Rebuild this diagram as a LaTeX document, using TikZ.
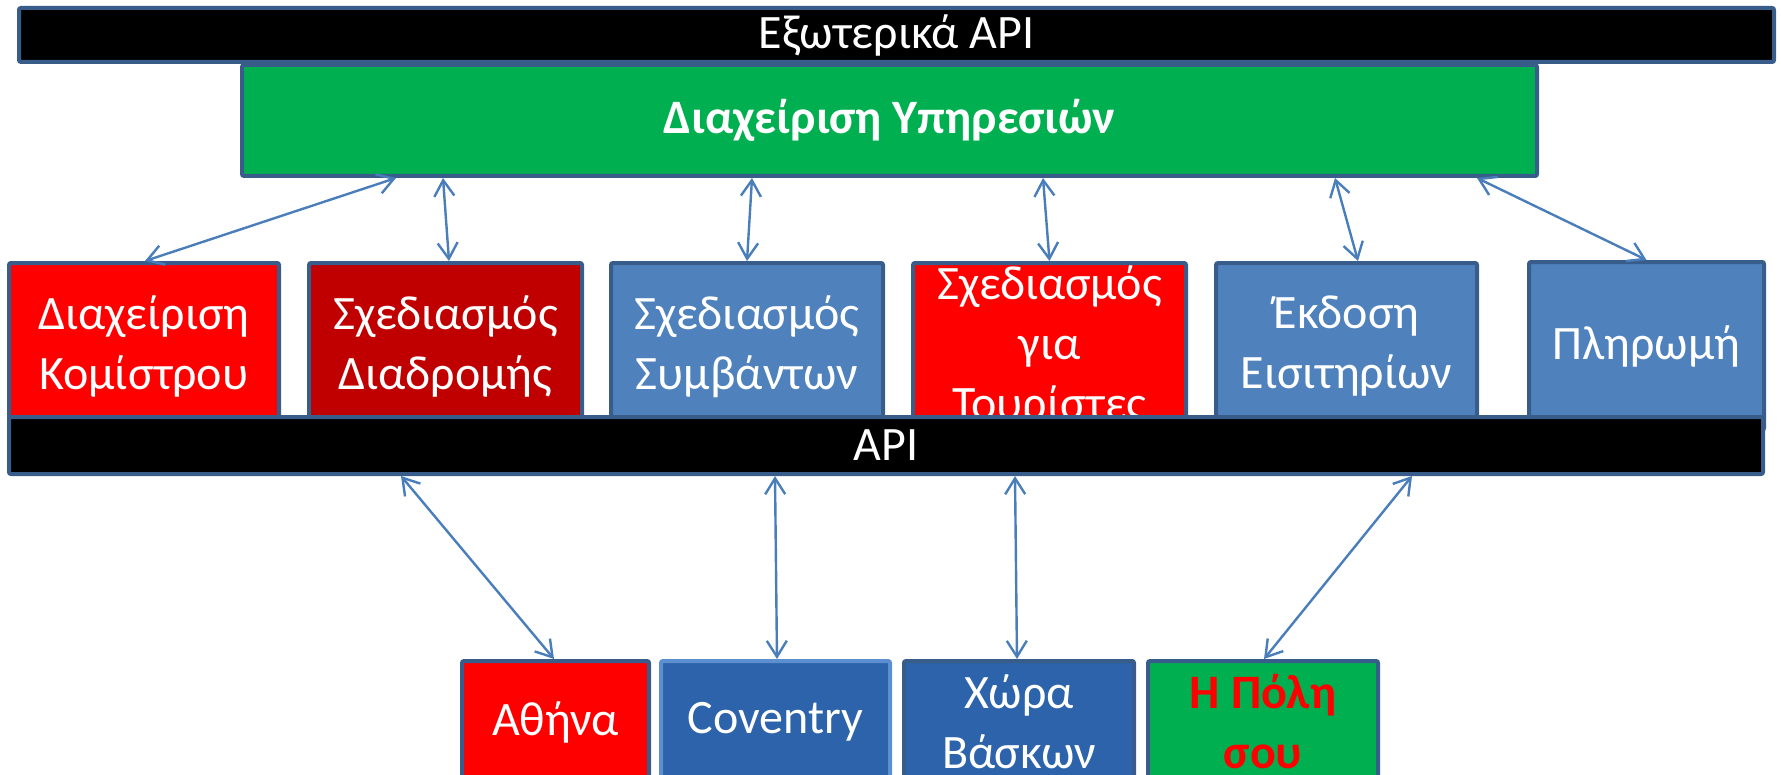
\documentclass[tikz,border=0pt]{standalone}
\usepackage{fontspec}
\setmainfont{Carlito}
\usetikzlibrary{arrows.meta,calc}

\definecolor{edgeblue}{RGB}{56,93,138}
\definecolor{linkblue}{RGB}{74,126,187}
\definecolor{modblue}{RGB}{79,129,189}
\definecolor{cityblue}{RGB}{44,99,170}
\definecolor{lightedge}{RGB}{91,143,208}
\definecolor{darkred}{RGB}{192,0,0}
\definecolor{pptgreen}{RGB}{0,176,80}

\tikzset{
  box/.style={draw=edgeblue, line width=2pt, rounded corners=1pt, inner sep=0pt, align=center,
    text=white, font=\fontsize{24}{30}\selectfont},
  bar/.style={box, fill=black, font=\fontsize{24}{26}\selectfont},
  link/.style={draw=linkblue, line width=1.2pt,
    {Straight Barb[length=8pt,width=10pt]}-{Straight Barb[length=8pt,width=10pt]}}
}

\begin{document}
\begin{tikzpicture}[x=0.5pt,y=0.5pt,yscale=-1]
\useasboundingbox (0,0) rectangle (1781,775);

%Shape: Rectangle (services)
\node [box, fill=pptgreen, font=\fontsize{24}{30}\selectfont\bfseries,
  minimum width=647.5pt, minimum height=55.5pt] (serv) at (889.5,120.5) {Διαχείριση Υπηρεσιών};
%Shape: Rectangle (external api)
\node [bar, minimum width=877.5pt, minimum height=27pt] (extapi) at (896.5,35) {Εξωτερικά API};

% modules
\node [box, fill=red, minimum width=135pt, minimum height=83.5pt] (fare) at (144,346.5) {Διαχείριση\\Κομίστρου};
\node [box, fill=darkred, minimum width=136.5pt, minimum height=83.5pt] (route) at (445.5,346.5) {Σχεδιασμός\\Διαδρομής};
\node [box, fill=modblue, minimum width=136pt, minimum height=83.5pt] (events) at (747,346.5) {Σχεδιασμός\\Συμβάντων};
\node [box, fill=red, minimum width=136.5pt, minimum height=83.5pt] (tourist) at (1049.5,346.5) {Σχεδιασμός\\για\\Τουρίστες};
\node [box, fill=modblue, minimum width=130.5pt, minimum height=83.5pt] (ticket) at (1346.5,346.5) {Έκδοση\\Εισιτηρίων};
\node [box, fill=modblue, minimum width=117.5pt, minimum height=84pt] (pay) at (1646.5,346) {Πληρωμή};

%Shape: Rectangle (api)
\node [bar, minimum width=877pt, minimum height=28.5pt] (api) at (886,445.5) {API};

% cities
\node [box, fill=red, minimum width=93.5pt, minimum height=61pt] (athens) at (555.5,722) {Αθήνα};
\node [box, draw=lightedge, fill=cityblue, minimum width=114.5pt, minimum height=61pt] (coventry) at (775.5,722) {Coventry};
\node [box, fill=cityblue, minimum width=115pt, minimum height=61pt] (basque) at (1019,722) {Χώρα\\Βάσκων};
\node [box, fill=pptgreen, text=red, font=\fontsize{24}{30}\selectfont\bfseries,
  minimum width=115pt, minimum height=61pt] (yours) at (1263,722) {Η Πόλη\\σου};

%Straight Lines
\draw [link] ($(serv.south west)+(156,0)$) -- ($(fare.north)+(1,0)$);
\draw [link] ($(serv.south west)+(203,0)$) -- ($(route.north)+(3.5,0)$);
\draw [link] ($(serv.south west)+(512,0)$) -- (events.north);
\draw [link] ($(serv.south west)+(803,0)$) -- (tourist.north);
\draw [link] ($(serv.south west)+(1095,0)$) -- ($(ticket.north)+(11.5,0)$);
\draw [link] ($(serv.south west)+(1237,0)$) -- (pay.north);

\draw [link] ($(api.south west)+(394,0)$) -- ($(athens.north)+(-1.5,0)$);
\draw [link] ($(api.south west)+(768,0)$) -- ($(coventry.north)+(1.5,0)$);
\draw [link] ($(api.south west)+(1008,0)$) -- ($(basque.north)+(-2,0)$);
\draw [link] ($(api.south west)+(1405,0)$) -- ($(yours.north)+(1,0)$);

\end{tikzpicture}
\end{document}
